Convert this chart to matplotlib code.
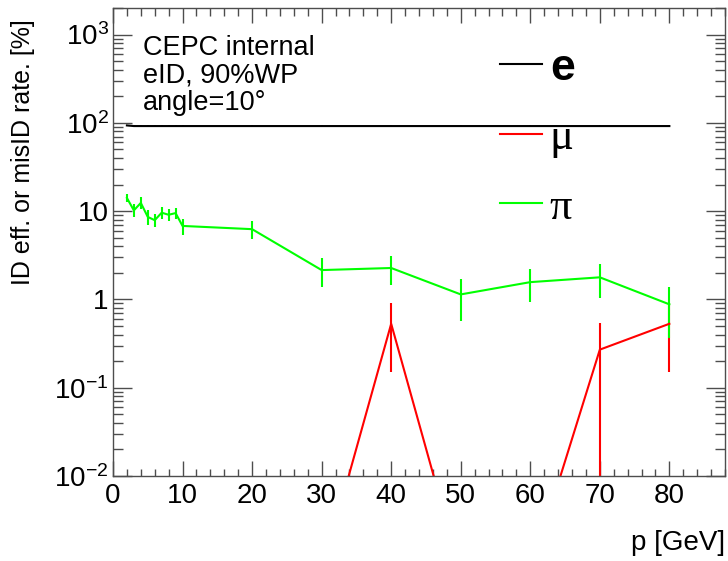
import numpy as np
import matplotlib
matplotlib.use("Agg")
import matplotlib.pyplot as plt
from matplotlib.ticker import FixedLocator, FixedFormatter, MultipleLocator, LogLocator, NullFormatter

plt.rcParams['font.family'] = ['Liberation Sans', 'DejaVu Sans']
plt.rcParams['mathtext.fontset'] = 'custom'
plt.rcParams['mathtext.rm'] = 'Liberation Sans'

# ---- data ----
p = [2, 3, 4, 5, 6, 7, 8, 9, 10, 20, 30, 40, 50, 60, 70, 80]
e_eff = [93.5, 92.0, 92.0, 92.0, 92.0, 92.0, 92.0, 92.0, 92.0, 92.0, 92.0, 92.0, 92.0, 92.0, 92.0, 92.0]
e_err = [1.5, 1.5, 1.5, 1.5, 1.5, 1.5, 1.5, 1.5, 1.5, 1.5, 1.5, 1.5, 1.5, 2.5, 1.5, 1.5]
mu_rate = [0, 0, 0, 0, 0, 0, 0, 0, 0, 0, 0, 0.53, 0, 0, 0.27, 0.53]
mu_err = [0, 0, 0, 0, 0, 0, 0, 0, 0, 0, 0, 0.38, 0, 0, 0.27, 0.38]
pi_rate = [14.1, 10.2, 12.4, 8.6, 7.9, 9.6, 9.1, 9.5, 6.8, 6.25, 2.15, 2.27, 1.14, 1.57, 1.78, 0.88]
pi_err = [1.5, 1.7, 1.9, 1.6, 1.35, 1.55, 1.4, 1.4, 1.4, 1.4, 0.76, 0.82, 0.57, 0.64, 0.74, 0.51]

labels = ['e', 'μ', 'π']
info_lines = ['CEPC internal', 'eID, 90%WP', 'angle=10°']
ytick_vals = [1e-2, 1e-1, 1, 10, 100, 1000]
ytick_labels = [r'$\mathregular{10^{-2}}$', r'$\mathregular{10^{-1}}$', '1', '10',
                r'$\mathregular{10^{2}}$', r'$\mathregular{10^{3}}$']
xticks = [0, 10, 20, 30, 40, 50, 60, 70, 80]

LOG_FLOOR = 8e-4  # ROOT draws empty (zero) bins at this level on a log axis

fig = plt.figure(figsize=(7.28, 5.61), dpi=100)
ax = fig.add_axes([113/728, 1-476/561, (725-113)/728, (476-8)/561])

lw = 1.5
c_e, c_mu, c_pi = 'black', '#ff0000', '#00ff00'

h_e = ax.errorbar(p, e_eff, yerr=e_err, color=c_e, lw=lw, elinewidth=1.2, capsize=0)
mu_plot = np.where(np.array(mu_rate) > 0, mu_rate, LOG_FLOOR)
h_mu = ax.errorbar(p, mu_plot, yerr=mu_err, color=c_mu, lw=lw, elinewidth=lw, capsize=0)
h_pi = ax.errorbar(p, pi_rate, yerr=pi_err, color=c_pi, lw=lw, elinewidth=lw, capsize=0)

ax.set_yscale('log')
ax.set_xlim(0, 88)
ax.set_ylim(1e-2, 2000)

ax.yaxis.set_major_locator(FixedLocator(ytick_vals))
ax.yaxis.set_major_formatter(FixedFormatter(ytick_labels))
ax.yaxis.set_minor_locator(LogLocator(base=10, subs=np.arange(2, 10)))
ax.yaxis.set_minor_formatter(NullFormatter())
ax.xaxis.set_major_locator(FixedLocator(xticks))
ax.xaxis.set_minor_locator(MultipleLocator(2))

fc = '0.3'
for s in ax.spines.values():
    s.set_color(fc)
    s.set_linewidth(1.0)
ax.tick_params(which='both', direction='in', top=True, right=True, color=fc, width=1.0,
               labelsize=20, labelcolor='black')
ax.tick_params(axis='x', which='major', length=10.5, pad=5)
ax.tick_params(axis='x', which='minor', length=5.4)
ax.tick_params(axis='y', which='major', length=13.5, pad=3)
ax.tick_params(axis='y', which='minor', length=7)

ax.set_xlabel('p [GeV]', fontsize=20, ha='right')
ax.xaxis.set_label_coords(1.0, -0.115)
ax.set_ylabel('ID eff. or misID rate. [%]', fontsize=18, ha='right')
ax.yaxis.set_label_coords(-0.128, 0.975)

# info text
for i, t in enumerate(info_lines):
    fig.text(143/728, 1 - (55 + 27.5*i)/561, t, fontsize=19.5, va='baseline', ha='left')

leg = ax.legend([h_e[0], h_mu[0], h_pi[0]], labels, loc='upper left',
                bbox_to_anchor=(500/728, 1-48/561), bbox_transform=fig.transFigure,
                frameon=False, fontsize=32, handlelength=0.95, handletextpad=0.17,
                labelspacing=0.66, borderpad=0, borderaxespad=0)
txts = leg.get_texts()
txts[0].set_fontweight('bold')
txts[0].set_family(['Liberation Sans'])
txts[1].set_family(['Liberation Serif'])
txts[2].set_family(['Liberation Serif'])
for ln in leg.get_lines():
    ln.set_linewidth(1.5)

fig.savefig('out.png', dpi=100)
